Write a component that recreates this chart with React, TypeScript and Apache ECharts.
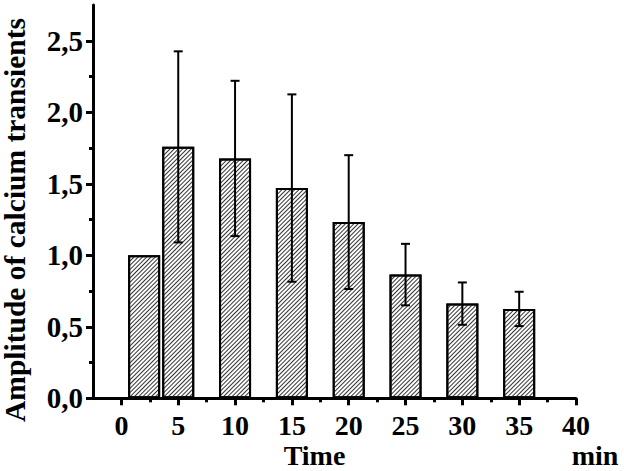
import React, { useEffect, useRef } from "react";
import * as echarts from "echarts";

const times = [2, 5, 10, 15, 20, 25, 30, 35];
const means = [1.0, 1.758, 1.677, 1.47, 1.232, 0.865, 0.662, 0.625];
const errors = [0, 0.668, 0.543, 0.655, 0.468, 0.215, 0.148, 0.12];
const xMajorTicks = [0, 5, 10, 15, 20, 25, 30, 35, 40];
const xMinorTicks = [2.5, 7.5, 12.5, 17.5, 22.5, 27.5, 32.5, 37.5];
const yMajorTicks = [0, 0.5, 1.0, 1.5, 2.0, 2.5];
const yMinorTicks = [0.25, 0.75, 1.25, 1.75, 2.25];

const FONT = "'Liberation Serif', 'Times New Roman', serif";

export default function App() {
  const ref = useRef<HTMLDivElement>(null);
  useEffect(() => {
    if (!ref.current) return;
    const chart = echarts.init(ref.current, undefined, { renderer: "svg" });
    const axisLineStyle = { color: "#000", width: 3 };
    const fmt = (v: number) => v.toFixed(1).replace(".", ",");
    chart.setOption({
      animation: false,
      backgroundColor: "#fff",
      grid: { left: 93, right: 48, top: 5, bottom: 72.7, containLabel: false },
      xAxis: [
        {
          type: "value",
          min: -2.5,
          max: 40,
          axisLine: { show: true, onZero: false, lineStyle: axisLineStyle },
          axisTick: { show: true, customValues: xMajorTicks, length: 7, lineStyle: { color: "#000", width: 3 } },
          axisLabel: {
            show: true,
            customValues: xMajorTicks,
            margin: 13,
            color: "#000",
            fontFamily: FONT,
            fontWeight: "bold",
            fontSize: 28,
          },
          splitLine: { show: false },
        },
        {
          type: "value",
          min: -2.5,
          max: 40,
          position: "bottom",
          axisLine: { show: false, onZero: false },
          axisTick: { show: true, customValues: xMinorTicks, length: 4, lineStyle: { color: "#000", width: 3 } },
          axisLabel: { show: false },
          splitLine: { show: false },
        },
      ],
      yAxis: [
        {
          type: "value",
          min: 0,
          max: 2.75,
          axisLine: { show: true, onZero: false, lineStyle: axisLineStyle },
          axisTick: { show: true, customValues: yMajorTicks, length: 7, lineStyle: { color: "#000", width: 3 } },
          axisLabel: {
            show: true,
            customValues: yMajorTicks,
            formatter: fmt,
            margin: 10,
            color: "#000",
            fontFamily: FONT,
            fontWeight: "bold",
            fontSize: 29,
          },
          splitLine: { show: false },
        },
        {
          type: "value",
          min: 0,
          max: 2.75,
          position: "left",
          axisLine: { show: false, onZero: false },
          axisTick: { show: true, customValues: yMinorTicks, length: 4, lineStyle: { color: "#000", width: 3 } },
          axisLabel: { show: false },
          splitLine: { show: false },
        },
      ],
      series: [
        {
          type: "bar",
          xAxisIndex: 0,
          yAxisIndex: 0,
          data: times.map((t, i) => [t, means[i]]),
          barWidth: 32,
          itemStyle: {
            color: "#fff",
            borderColor: "#000",
            borderWidth: 2,
            decal: {
              symbol: "rect",
              symbolSize: 1,
              color: "#333",
              dashArrayX: [1, 0],
              dashArrayY: [1, 1.8],
              rotation: -Math.PI / 4,
            },
          },
          z: 2,
        },
        {
          type: "custom",
          xAxisIndex: 0,
          yAxisIndex: 0,
          z: 5,
          data: times.map((t, i) => [t, means[i], errors[i]]),
          encode: { x: 0, y: 1 },
          renderItem: (params: any, api: any) => {
            const x = api.value(0);
            const y = api.value(1);
            const e = api.value(2);
            if (!e) return null;
            const top = api.coord([x, y + e]);
            const bot = api.coord([x, y - e]);
            const hw = 4.5;
            const style = { stroke: "#000", lineWidth: 2 };
            return {
              type: "group",
              children: [
                { type: "line", shape: { x1: top[0], y1: top[1], x2: bot[0], y2: bot[1] }, style },
                { type: "line", shape: { x1: top[0] - hw, y1: top[1], x2: top[0] + hw, y2: top[1] }, style },
                { type: "line", shape: { x1: bot[0] - hw, y1: bot[1], x2: bot[0] + hw, y2: bot[1] }, style },
              ],
            };
          },
        },
      ],
      graphic: [
        {
          type: "text",
          x: 15,
          y: 220,
          rotation: Math.PI / 2,
          style: {
            text: "Amplitude of calcium transients",
            fill: "#000",
            font: `bold 29.5px ${FONT}`,
            textAlign: "center",
            textVerticalAlign: "middle",
          },
        },
        {
          type: "text",
          x: 314.5,
          y: 455,
          style: {
            text: "Time",
            fill: "#000",
            font: `bold 28px ${FONT}`,
            textAlign: "center",
            textVerticalAlign: "middle",
          },
        },
        {
          type: "text",
          x: 595,
          y: 455,
          style: {
            text: "min",
            fill: "#000",
            font: `bold 28px ${FONT}`,
            textAlign: "center",
            textVerticalAlign: "middle",
          },
        },
      ],
    });
    return () => chart.dispose();
  }, []);
  return (
    <div
      ref={ref}
      style={{ position: "absolute", left: 0, top: 0, width: 624, height: 471 }}
    />
  );
}
